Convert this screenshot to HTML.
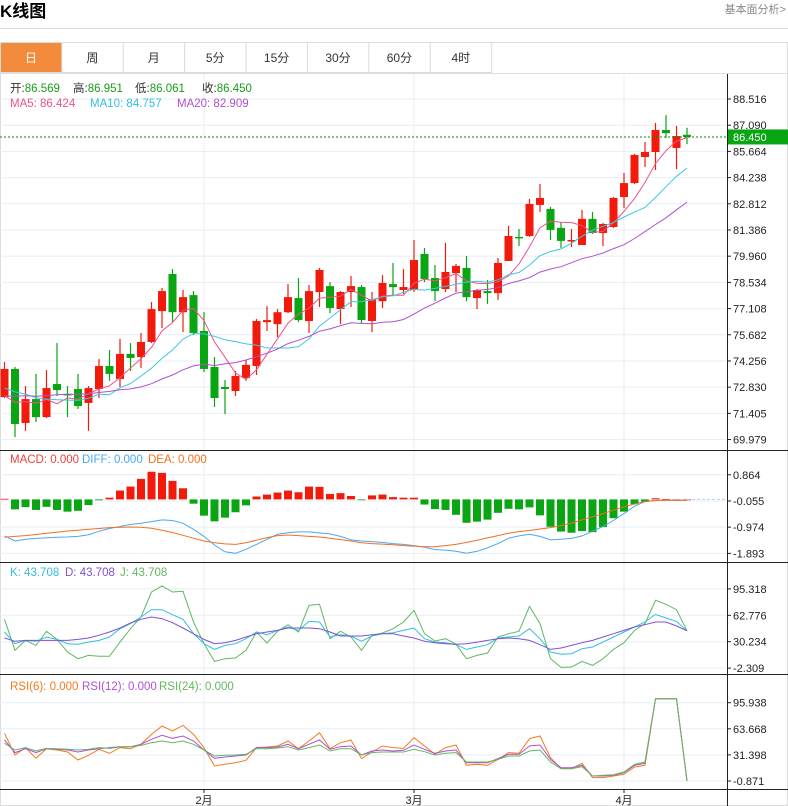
<!DOCTYPE html>
<html><head><meta charset="utf-8">
<style>
html,body{margin:0;padding:0;background:#fff;width:788px;height:806px;overflow:hidden;font-family:"Liberation Sans","Noto Sans CJK SC",sans-serif;}
svg text{font-family:"Liberation Sans","Noto Sans CJK SC",sans-serif;}
</style></head>
<body>
<svg id="chart" width="788" height="806" viewBox="0 0 788 806" xmlns="http://www.w3.org/2000/svg">
  <text x="0" y="17" font-size="17" font-weight="bold" fill="#000">K线图</text>
  <text x="786" y="13" font-size="11" fill="#888" text-anchor="end">基本面分析&gt;</text>
  <line x1="0" y1="28.5" x2="788" y2="28.5" stroke="#d8d8d8"/>
  <rect x="0.5" y="42.5" width="787" height="763" fill="none" stroke="#dcdcdc"/>
  <g id="tabs"></g>
  <g id="grid"></g>
  <g id="main"></g>
  <g id="macd"></g>
  <g id="kdj"></g>
  <g id="rsi"></g>
  <g id="axes"></g>
  <g id="legends"></g>
</svg>
<script>
const opens=[72.29,73.82,70.88,72.18,71.20,73.00,72.46,72.73,71.97,72.73,73.98,73.28,74.64,74.47,75.29,76.97,78.99,76.91,77.84,75.89,73.93,72.84,72.62,73.33,73.98,76.37,76.26,76.91,77.68,76.43,78.01,78.33,77.08,78.01,78.28,76.43,77.51,78.44,78.12,78.12,80.08,78.77,78.17,79.04,79.32,77.68,78.06,77.95,79.70,81.01,81.06,82.75,82.53,81.50,80.79,80.57,81.99,81.22,81.55,83.18,83.94,85.36,85.63,86.83,85.85,86.569];
const closes=[73.82,70.82,72.18,71.20,72.78,72.67,72.40,71.80,72.78,73.98,73.55,74.64,74.42,75.29,77.08,78.06,76.91,77.73,75.78,73.82,72.24,72.73,73.44,74.04,76.43,76.48,76.91,77.73,76.48,78.06,79.21,77.14,78.01,78.33,76.48,77.62,78.50,78.28,78.28,79.75,78.72,78.06,79.10,79.43,77.73,78.12,77.95,79.59,81.06,80.95,82.80,83.13,81.39,80.79,80.84,81.99,81.22,81.71,83.13,83.94,85.47,85.63,86.83,86.66,86.50,86.450];
const highs=[74.20,73.93,72.89,73.55,73.76,75.23,72.89,73.55,72.89,74.36,74.85,75.46,75.23,75.78,77.46,78.23,79.26,78.12,78.06,76.91,74.47,73.22,73.71,74.31,76.54,77.24,77.08,78.44,78.77,78.39,79.32,78.55,78.06,78.88,78.39,78.01,78.93,79.59,79.26,80.84,80.41,79.48,80.68,79.53,79.97,78.17,78.66,79.86,81.61,81.44,83.07,83.89,82.64,81.82,81.44,82.48,82.37,81.77,83.18,84.49,85.52,86.18,87.21,87.64,87.05,86.951];
const lows=[72.24,70.11,70.45,70.93,71.15,72.35,71.20,71.64,70.45,72.24,73.17,72.84,73.71,73.87,75.23,76.05,76.37,75.83,75.67,73.65,71.75,71.37,72.35,73.17,73.49,75.89,75.56,76.86,76.37,75.78,77.19,76.86,76.26,77.19,76.32,75.83,77.14,77.79,77.90,78.01,78.55,77.51,78.01,78.01,77.51,77.08,77.35,77.57,79.70,80.51,81.01,82.37,80.84,80.41,80.46,80.57,81.17,80.51,81.50,82.58,83.89,84.81,84.65,86.39,84.70,86.061];
const priorCloses=[71.2,71.5,71.9,72.0,71.8,71.6,71.9,72.3,72.6,72.4,72.9,73.4,73.2,73.5,73.0,72.6,72.0,71.6,71.8];
const macdBars=[0.02,-0.35,-0.27,-0.37,-0.26,-0.37,-0.43,-0.40,-0.20,-0.03,0.06,0.31,0.45,0.72,0.97,0.93,0.65,0.39,-0.15,-0.57,-0.77,-0.64,-0.45,-0.21,0.10,0.17,0.24,0.31,0.25,0.45,0.44,0.19,0.22,0.12,-0.02,0.14,0.17,0.08,0.06,0.06,-0.18,-0.34,-0.37,-0.54,-0.82,-0.78,-0.71,-0.47,-0.33,-0.35,-0.28,-0.56,-0.96,-1.13,-1.17,-1.11,-1.15,-0.97,-0.66,-0.43,-0.17,-0.08,0.04,0.01,0.00,0.00];
const diffVals=[-1.28,-1.46,-1.40,-1.37,-1.35,-1.33,-1.32,-1.30,-1.24,-1.12,-1.02,-0.95,-0.88,-0.84,-0.78,-0.72,-0.74,-0.84,-1.05,-1.30,-1.60,-1.84,-1.89,-1.75,-1.58,-1.40,-1.22,-1.17,-1.14,-1.14,-1.18,-1.21,-1.30,-1.42,-1.46,-1.48,-1.51,-1.55,-1.58,-1.62,-1.68,-1.76,-1.78,-1.82,-1.89,-1.82,-1.70,-1.55,-1.36,-1.28,-1.22,-1.30,-1.42,-1.40,-1.37,-1.28,-1.12,-0.95,-0.74,-0.50,-0.24,-0.08,-0.04,-0.03,-0.03,-0.03];
const deaVals=[-1.33,-1.30,-1.27,-1.23,-1.19,-1.15,-1.11,-1.08,-1.05,-1.02,-0.99,-0.98,-0.97,-0.98,-1.01,-1.08,-1.16,-1.26,-1.36,-1.46,-1.52,-1.56,-1.58,-1.52,-1.43,-1.34,-1.27,-1.25,-1.27,-1.30,-1.32,-1.36,-1.41,-1.46,-1.52,-1.55,-1.57,-1.59,-1.62,-1.64,-1.66,-1.66,-1.62,-1.58,-1.51,-1.43,-1.35,-1.27,-1.19,-1.13,-1.09,-1.04,-0.99,-0.92,-0.83,-0.72,-0.61,-0.50,-0.38,-0.26,-0.16,-0.07,-0.04,-0.03,-0.03,-0.03];
const kVals=[42.2,27.8,31.9,30.7,36.0,33.1,27.8,27.0,29.8,31.9,36.0,46.3,52.5,60.7,69.7,69.7,63.5,57.8,40.1,27.8,20.8,25.7,27.8,34.0,42.2,38.9,44.2,48.4,44.2,55.3,54.5,36.0,38.9,37.3,30.7,37.3,40.1,41.3,44.2,47.1,34.0,29.8,29.0,26.6,20.8,23.7,26.6,34.8,36.0,37.3,46.3,34.0,17.5,14.7,15.5,21.6,23.7,29.8,36.0,42.2,48.4,54.5,63.9,59.4,55.3,43.7];
const dVals=[34.8,30.7,31.9,31.9,31.9,31.9,31.9,33.1,34.8,38.1,42.2,47.1,53.3,57.8,60.7,58.6,53.7,47.1,40.1,33.1,27.8,29.0,31.9,36.0,40.1,42.2,44.2,47.1,47.1,47.1,46.3,42.2,37.3,37.3,37.3,38.9,40.1,40.1,37.3,34.8,30.7,29.0,27.8,27.0,27.8,29.8,31.9,34.0,34.8,34.0,31.9,26.6,20.8,22.5,25.7,29.0,31.9,36.0,40.1,44.2,48.4,51.2,54.5,54.5,49.6,43.7];
const jVals=[57.8,19.6,31.9,25.7,43.0,33.1,17.5,9.3,13.4,12.2,12.2,29.8,46.3,60.7,91.5,98.9,91.5,92.3,54.5,27.8,6.0,9.3,10.1,19.6,42.2,28.6,43.0,51.2,42.2,75.0,76.3,33.9,43.0,36.0,19.6,38.1,41.0,46.3,54.5,68.9,40.1,31.1,34.0,27.0,9.3,13.4,16.3,36.0,40.1,43.0,73.8,52.5,9.3,-1.4,-0.9,6.0,1.1,9.3,20.8,29.0,44.2,52.5,81.2,76.3,69.7,43.7];
const rsi6=[58.1,31.3,40.4,27.2,39.1,37.5,35.0,25.1,30.9,38.3,33.4,40.4,39.1,44.5,56.8,67.1,60.9,68.0,56.8,40.4,17.7,19.8,21.8,24.7,40.4,41.2,42.4,48.6,39.1,48.6,58.9,39.1,46.5,49.8,26.8,35.0,42.4,40.4,39.5,52.7,42.4,32.1,40.4,43.7,18.5,19.8,18.5,25.9,34.2,33.4,51.5,54.8,28.0,14.8,14.4,21.0,3.3,3.3,5.3,7.4,16.5,18.5,100.9,100.9,100.9,-0.8];
const rsi12=[49.8,34.2,39.1,34.2,39.1,38.3,37.5,35.0,37.5,39.1,40.4,41.6,41.6,44.5,50.7,55.6,51.9,54.8,48.6,37.5,27.2,28.8,30.1,31.3,40.4,40.4,41.2,44.5,39.1,44.5,49.8,38.3,41.6,42.4,31.3,36.2,37.5,36.2,37.1,43.7,38.3,33.4,36.2,37.5,21.8,21.8,21.8,26.8,32.1,32.1,42.4,43.7,25.9,15.6,15.6,18.5,5.3,5.3,6.2,9.4,18.5,21.0,100.9,100.9,100.9,-0.8];
const rsi24=[45.7,37.5,40.4,36.2,39.5,39.1,38.3,37.5,38.3,40.4,39.5,41.2,41.6,43.2,46.5,48.6,46.5,48.6,44.5,37.5,30.1,30.9,31.3,32.1,39.1,39.1,39.9,41.6,37.5,40.4,43.7,36.2,39.1,39.1,31.3,34.2,35.0,35.0,35.0,38.3,35.4,31.3,33.4,34.2,22.6,22.6,22.6,25.9,30.1,30.1,36.2,37.5,22.6,14.4,14.4,16.9,5.3,6.2,7.0,10.3,19.8,22.6,100.9,100.9,100.9,-0.8];
const priceTicks=["88.516","87.090","85.664","84.238","82.812","81.386","79.960","78.534","77.108","75.682","74.256","72.830","71.405","69.979"];
const macdTicks=["0.864","-0.055","-0.974","-1.893"];
const kdjTicks=["95.318","62.776","30.234","-2.309"];
const rsiTicks=["95.938","63.668","31.398","-0.871"];
const monthLabels=["2月","3月","4月"];
const monthIndex=[19,39,59];
const tabLabels=["日","周","月","5分","15分","30分","60分","4时"];

const NS="http://www.w3.org/2000/svg";
function mk(parent,tag,attrs,text){const e=document.createElementNS(NS,tag);for(const k in attrs)e.setAttribute(k,attrs[k]);if(text!==undefined)e.textContent=text;parent.appendChild(e);return e;}
const xOf=i=>4.5+10.5*i;
const yPrice=p=>99+(88.516-p)*18.37;
const yMacd=v=>499.4-v*28.5;
const yKdj=v=>615.3-(v-62.776)*0.8115;
const yRsi=v=>702.7-(v-95.938)*0.809;
const RED="#f21a0a",GREEN="#0aa512";

const tabs=document.getElementById('tabs');
tabLabels.forEach((t,i)=>{
  const x=61.4*i;
  const r=mk(tabs,'rect',{x:x+0.5,y:42.5,width:61.4,height:30,fill:i===0?'#f28c3c':'#fff',stroke:'#dcdcdc'});
  
  
  const tx=mk(tabs,'text',{x:x+31,y:62,'font-size':12,'text-anchor':'middle',fill:i===0?'#fff':'#333'},t);
  
  
});
const tl=mk(tabs,'line',{x1:0,y1:73.5,x2:788,y2:73.5,stroke:'#dcdcdc'});



const grid=document.getElementById('grid');
function hline(y,name){const l=mk(grid,'line',{x1:0,y1:y,x2:727,y2:y,stroke:'#e8eef3','stroke-width':1});}
priceTicks.forEach(t=>hline(yPrice(parseFloat(t)),'price-gridline'));
macdTicks.forEach(t=>hline(yMacd(parseFloat(t)),'macd-gridline'));
kdjTicks.forEach(t=>hline(yKdj(parseFloat(t)),'kdj-gridline'));
rsiTicks.forEach(t=>hline(yRsi(parseFloat(t)),'rsi-gridline'));
monthIndex.forEach(i=>{const l=mk(grid,'line',{x1:xOf(i),y1:74,x2:xOf(i),y2:789,stroke:'#e8eef3'});});

function ma(n){const all=priorCloses.concat(closes);const off=priorCloses.length;return closes.map((c,i)=>{const s=Math.max(0,i+off-n+1);const w=all.slice(s,i+off+1);return w.reduce((a,b)=>a+b,0)/w.length;});}
const ma5=ma(5),ma10=ma(10),ma20=ma(20);
function poly(parent,vals,yf,color,name,w){const pts=vals.map((v,i)=>xOf(i).toFixed(1)+','+yf(v).toFixed(1)).join(' ');const p=mk(parent,'polyline',{points:pts,fill:'none',stroke:color,'stroke-width':w||1});return p;}

const main=document.getElementById('main');
closes.forEach((c,i)=>{
  const o=opens[i],h=highs[i],l=lows[i];const up=c>=o;const col=up?RED:GREEN;const x=xOf(i);
  const w=mk(main,'line',{x1:x,y1:yPrice(h),x2:x,y2:yPrice(l),stroke:col,'stroke-width':1.2});
  
  
  const top=yPrice(Math.max(o,c)),bot=yPrice(Math.min(o,c));
  const b=mk(main,'rect',{x:x-4,y:top,width:8,height:Math.max(1.5,bot-top),fill:col});
  
  
});
poly(main,ma5,yPrice,'#f0508a','ma5-line');
poly(main,ma10,yPrice,'#3cc8e0','ma10-line');
poly(main,ma20,yPrice,'#b050d0','ma20-line');
const last=closes[closes.length-1];
const cl=mk(main,'line',{x1:0,y1:yPrice(last),x2:727,y2:yPrice(last),stroke:'#0a8a12','stroke-dasharray':'2,2'});



const macd=document.getElementById('macd');
macdBars.forEach((v,i)=>{const y0=yMacd(0),y1=yMacd(v);const r=mk(macd,'rect',{x:xOf(i)-4,y:Math.min(y0,y1),width:8,height:Math.max(0.8,Math.abs(y1-y0)),fill:v>=0?RED:GREEN});});
poly(macd,diffVals,yMacd,'#4aa8f0','diff-line');
poly(macd,deaVals,yMacd,'#f07020','dea-line');
const zl=mk(macd,'line',{x1:xOf(65),y1:yMacd(0),x2:727,y2:yMacd(0),stroke:'#a8d8f0','stroke-dasharray':'3,2'});



const kdj=document.getElementById('kdj');
poly(kdj,jVals,yKdj,'#60b860','j-line');
poly(kdj,kVals,yKdj,'#30c0e0','k-line');
poly(kdj,dVals,yKdj,'#8050d0','d-line');

const rsi=document.getElementById('rsi');
poly(rsi,rsi6,yRsi,'#f57a20','rsi6-line');
poly(rsi,rsi12,yRsi,'#b050d0','rsi12-line');
poly(rsi,rsi24,yRsi,'#60b860','rsi24-line');

const axes=document.getElementById('axes');
function sep(y,name){const l=mk(axes,'line',{x1:0,y1:y,x2:788,y2:y,stroke:'#222'});}
sep(450.5,'macd-separator');sep(562.5,'kdj-separator');sep(674.5,'rsi-separator');sep(789.5,'x-axis-line');
const va=mk(axes,'line',{x1:727.5,y1:74,x2:727.5,y2:806,stroke:'#222'});


function ticks(list,yf,name){list.forEach(t=>{const y=yf(parseFloat(t));const tk=mk(axes,'line',{x1:727,y1:y,x2:731,y2:y,stroke:'#222'});const tx=mk(axes,'text',{x:733,y:y+4,'font-size':11,fill:'#222'},t);});}
ticks(priceTicks,yPrice,'price');ticks(macdTicks,yMacd,'macd');ticks(kdjTicks,yKdj,'kdj');ticks(rsiTicks,yRsi,'rsi');
monthIndex.forEach((i,k)=>{const tk=mk(axes,'line',{x1:xOf(i),y1:789,x2:xOf(i),y2:793,stroke:'#222'});const tx=mk(axes,'text',{x:xOf(i),y:804,'font-size':11,'text-anchor':'middle',fill:'#222'},monthLabels[k]);});
const pb=mk(axes,'rect',{x:728,y:yPrice(last)-7.5,width:60,height:15,fill:'#0aa512'});


const pt=mk(axes,'text',{x:733,y:yPrice(last)+4,'font-size':11,fill:'#fff'},last.toFixed(3));



const lg=document.getElementById('legends');
function legend(x,y,parts,name){const t=mk(lg,'text',{x:x,y:y,'font-size':11.5});parts.forEach(p=>{mk(t,'tspan',{fill:p[1]},p[0]);});}
legend(10,92,[["开:","#333"],["86.569","#1a9a1a"]],'open-legend');
legend(73,92,[["高:","#333"],["86.951","#1a9a1a"]],'high-legend');
legend(135,92,[["低:","#333"],["86.061","#1a9a1a"]],'low-legend');
legend(202,92,[["收:","#333"],["86.450","#1a9a1a"]],'close-legend');
legend(10,107,[["MA5: 86.424","#f0508a"]],'ma5-legend');
legend(90,107,[["MA10: 84.757","#30c0e0"]],'ma10-legend');
legend(177,107,[["MA20: 82.909","#b050d0"]],'ma20-legend');
legend(10,463,[["MACD: 0.000","#f0403a"]],'macd-legend');
legend(82,463,[["DIFF: 0.000","#4aa8f0"]],'diff-legend');
legend(148,463,[["DEA: 0.000","#f07020"]],'dea-legend');
legend(10,576,[["K: 43.708","#30c0e0"]],'k-legend');
legend(65,576,[["D: 43.708","#8050d0"]],'d-legend');
legend(120,576,[["J: 43.708","#60b860"]],'j-legend');
legend(10,690,[["RSI(6): 0.000","#f57a20"]],'rsi6-legend');
legend(82,690,[["RSI(12): 0.000","#b050d0"]],'rsi12-legend');
legend(159,690,[["RSI(24): 0.000","#60b860"]],'rsi24-legend');
</script>
</body></html>
